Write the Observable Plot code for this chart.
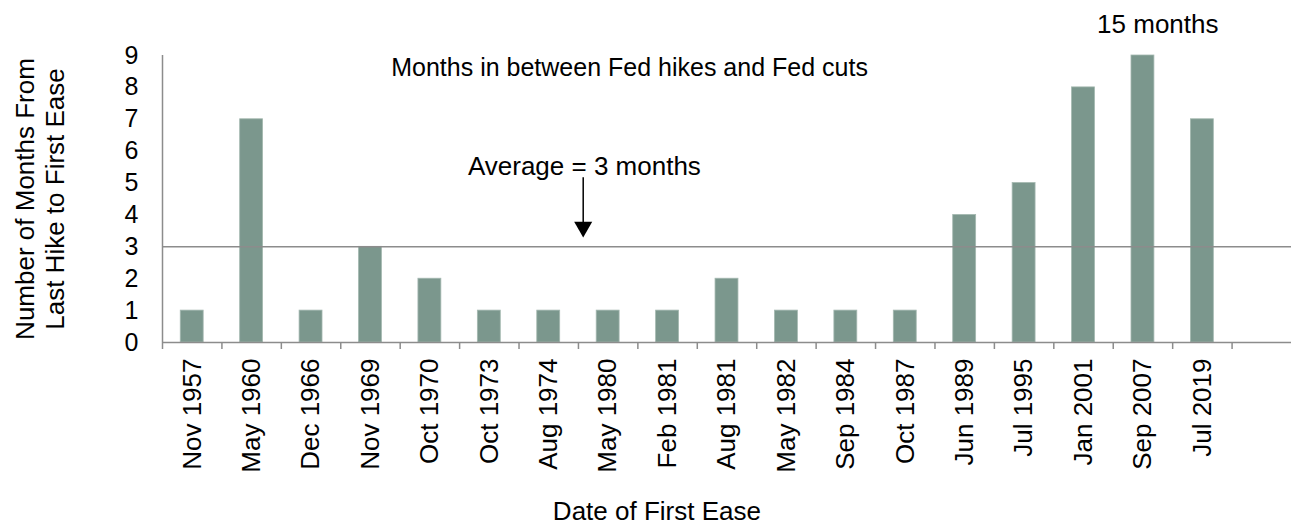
<!DOCTYPE html>
<html><head><meta charset="utf-8">
<script src="https://cdn.jsdelivr.net/npm/d3@7"></script>
<script src="https://cdn.jsdelivr.net/npm/@observablehq/plot@0.6"></script>
<style>body{margin:0;background:#fff;}</style>
</head><body><div id="chart"></div>
<script>
const categories = ["Nov 1957","May 1960","Dec 1966","Nov 1969","Oct 1970","Oct 1973","Aug 1974","May 1980","Feb 1981","Aug 1981","May 1982","Sep 1984","Oct 1987","Jun 1989","Jul 1995","Jan 2001","Sep 2007","Jul 2019"];
const months = [1,7,1,3,2,1,1,1,1,2,1,1,1,4,5,8,15,7];
const yTicks = [0,1,2,3,4,5,6,7,8,9];
const yMax = 9;
const averageMonths = 3;
const yTitle = "Number of Months From\nLast Hike to First Ease";
const xTitle = "Date of First Ease";
const titleNote = [{text: "Months in between Fed hikes and Fed cuts", x: 7.86, y: 8.6}];
const annotations = [
  {text: "Average = 3 months", x: 7.1, y: 5.52},
  {text: "15 months", x: 16.75, y: 9.97}
];
const avgArrow = [{x: 7.08, y1: 5.17, y2: 3.62}];

const data = categories.map((c, i) => ({c, i, v: months[i]}));
const slots = categories.length + 1;
const font = "'Liberation Sans', Arial, sans-serif";
const grey = "#8c8c8c";

const chart = Plot.plot({
  width: 1291, height: 526,
  marginLeft: 162, marginRight: 0, marginTop: 55, marginBottom: 184,
  style: {fontFamily: font, fontSize: "26px", color: "#000", background: "#fff", overflow: "visible"},
  x: {domain: [0, slots], axis: null},
  y: {domain: [0, yMax], axis: null},
  marks: [
    Plot.rectY(data, {x1: "i", x2: d => d.i + 1, y1: 0, y2: d => Math.min(d.v, yMax), fill: "#7b978d", stroke: "#a4b8b0", strokeWidth: 0.8, insetLeft: 18.25, insetRight: 18.25}),
    Plot.ruleY([averageMonths], {stroke: grey, strokeWidth: 1.5}),
    Plot.ruleY([0], {stroke: grey, strokeWidth: 1.5}),
    Plot.ruleX([0], {y1: 0, y2: yMax, stroke: grey, strokeWidth: 1.5}),
    Plot.axisY({ticks: yTicks, tickSize: 0, tickPadding: 24, fontSize: 25, label: null}),
    Plot.axisX({ticks: d3.range(0, slots), tickSize: 7, tickFormat: () => "", stroke: grey, strokeWidth: 1.5, label: null}),
    Plot.axisX({ticks: categories.map((c, i) => i + 0.5), tickFormat: t => categories[Math.floor(t)], tickSize: 0, tickRotate: -90, tickPadding: 16, fontSize: 26, label: null}),
    Plot.text([yTitle], {frameAnchor: "left", dx: -123, rotate: -90, textAnchor: "middle", lineAnchor: "middle", lineHeight: 1.15, fontSize: 26, fill: "#000"}),
    Plot.text([xTitle], {frameAnchor: "bottom", x: 8.32, dy: 169, lineAnchor: "middle", fontSize: 26, fill: "#000"}),
    Plot.text(titleNote, {x: "x", y: "y", text: "text", lineAnchor: "middle", fontSize: 25, fill: "#000"}),
    Plot.text(annotations, {x: "x", y: "y", text: "text", lineAnchor: "middle", fontSize: 26, fill: "#000"}),
    Plot.ruleX(avgArrow, {x: "x", y1: "y1", y2: "y2", stroke: "#000", strokeWidth: 1.5}),
    Plot.dot(avgArrow, {x: "x", y: "y2", symbol: "triangle", rotate: 180, r: 6.7, fill: "#000", stroke: null})
  ]
});
document.getElementById("chart").appendChild(chart);
</script>
</body></html>
